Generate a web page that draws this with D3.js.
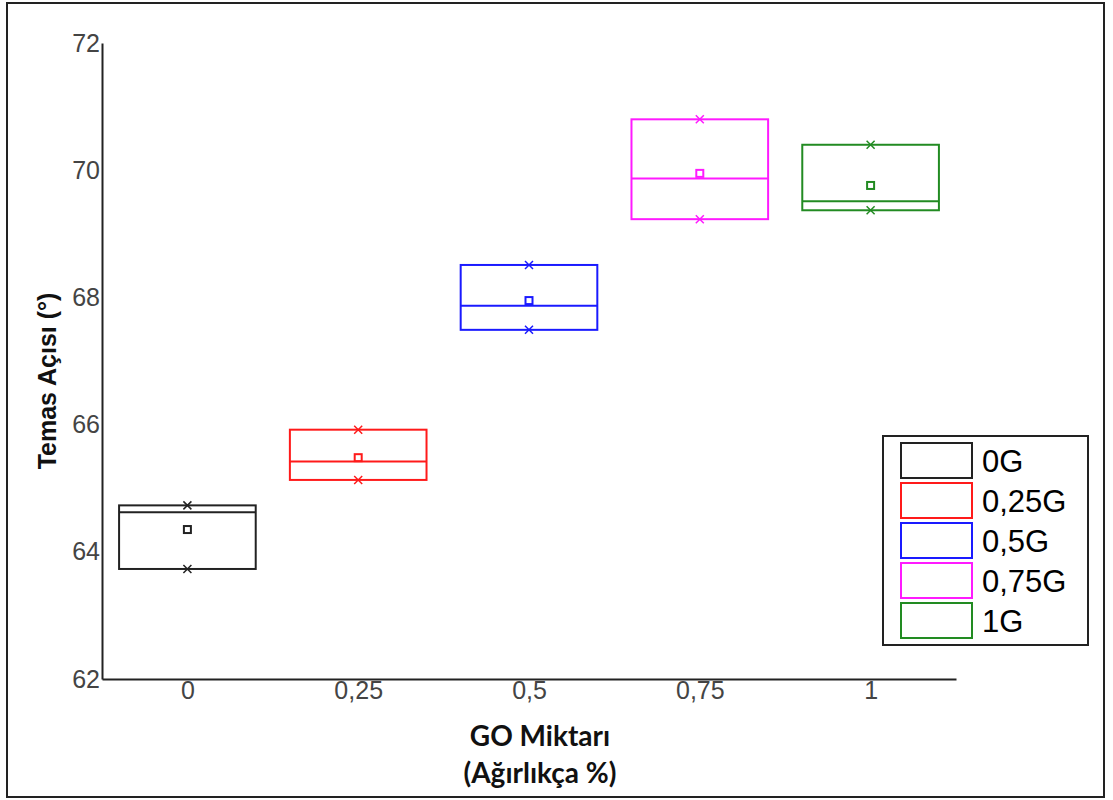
<!DOCTYPE html>
<html>
<head>
<meta charset="utf-8">
<script src="https://cdn.jsdelivr.net/npm/d3@7"></script>
<style>
  body { margin: 0; background: #fff; }
  svg { display: block; }
</style>
</head>
<body>
<svg id="chart" width="1113" height="800"></svg>
<script>
// data
var groups = ["0G", "0,25G", "0,5G", "0,75G", "1G"];
var goAmount = [0, 0.25, 0.5, 0.75, 1];
var tickLabels = ["0", "0,25", "0,5", "0,75", "1"];
var colors = ["#222222", "#ff1a1a", "#1a1aff", "#ff1aff", "#228b22"];
var maxVal = [64.73, 65.92, 68.51, 70.80, 70.40];
var medianVal = [64.62, 65.42, 67.87, 69.87, 69.51];
var meanVal = [64.35, 65.48, 67.95, 69.95, 69.76];
var minVal = [63.73, 65.13, 67.49, 69.23, 69.37];
var yTicks = [62, 64, 66, 68, 70, 72];

var svg = d3.select("#chart");

// outer frame
svg.append("rect")
	.attr("x", 7).attr("y", 3)
	.attr("width", 1097).attr("height", 794)
	.attr("fill", "white")
	.attr("stroke", "#222")
	.attr("stroke-width", 2);

var x = d3.scaleLinear().domain([-0.125, 1.125]).range([102, 956]);
var y = d3.scaleLinear().domain([62, 72]).range([679, 43]);
var boxW = (x(0.25) - x(0)) * 0.8;

//Axes
var yAxis = svg.append("g")
	.attr("transform", "translate(" + x(-0.125) + ",0)")
	.call(d3.axisLeft(y).tickValues(yTicks).tickSize(0).tickSizeOuter(0).tickPadding(2));
var xAxis = svg.append("g")
	.attr("transform", "translate(0," + y(62) + ")")
	.call(d3.axisBottom(x).tickValues(goAmount).tickFormat((d, i) => tickLabels[i])
		.tickSize(0).tickSizeOuter(0).tickPadding(2));
[xAxis, yAxis].forEach(function(a) {
	a.select(".domain").attr("stroke", "#222").attr("stroke-width", 2);
	a.selectAll("text")
		.attr("font-family", "Liberation Sans, Arial, sans-serif")
		.attr("font-size", 25)
		.attr("fill", "#444");
});

//Boxes
var box = svg.append("g").selectAll("g").data(groups).enter().append("g")
	.attr("stroke", (d, i) => colors[i])
	.attr("fill", "none")
	.attr("stroke-width", 2);

box.append("rect")
	.attr("x", (d, i) => x(goAmount[i]) - boxW / 2)
	.attr("y", (d, i) => y(maxVal[i]))
	.attr("width", boxW)
	.attr("height", (d, i) => y(minVal[i]) - y(maxVal[i]));

box.append("line")
	.attr("x1", (d, i) => x(goAmount[i]) - boxW / 2)
	.attr("x2", (d, i) => x(goAmount[i]) + boxW / 2)
	.attr("y1", (d, i) => y(medianVal[i]))
	.attr("y2", (d, i) => y(medianVal[i]));

box.append("rect")
	.attr("x", (d, i) => x(goAmount[i]) - 3.5)
	.attr("y", (d, i) => y(meanVal[i]) - 3.5)
	.attr("width", 7)
	.attr("height", 7);

function cross(g, vals) {
	g.append("path")
		.attr("stroke-width", 1.5)
		.attr("d", function(d, i) {
			var cx = x(goAmount[i]), cy = y(vals[i]);
			return "M" + (cx - 4) + "," + (cy - 4) + "L" + (cx + 4) + "," + (cy + 4) +
				"M" + (cx - 4) + "," + (cy + 4) + "L" + (cx + 4) + "," + (cy - 4);
		});
}
cross(box, maxVal);
cross(box, minVal);

//Legend
var legend = svg.append("g");
legend.append("rect")
	.attr("x", 883).attr("y", 436)
	.attr("width", 205).attr("height", 209)
	.attr("fill", "white")
	.attr("stroke", "#222")
	.attr("stroke-width", 2);
var item = legend.selectAll(".item").data(groups).enter().append("g")
	.attr("class", "item")
	.attr("transform", (d, i) => "translate(0," + (443 + i * 40) + ")");
item.append("rect")
	.attr("x", 901).attr("y", 0)
	.attr("width", 71).attr("height", 35)
	.attr("fill", "none")
	.attr("stroke", (d, i) => colors[i])
	.attr("stroke-width", 2);
item.append("text")
	.attr("x", 982).attr("y", 29)
	.attr("font-family", "Liberation Sans, Arial, sans-serif")
	.attr("font-size", 31)
	.attr("fill", "#000")
	.text(d => d);

//Axis titles
svg.append("text")
	.attr("transform", "translate(56,381) rotate(-90)")
	.attr("text-anchor", "middle")
	.attr("font-family", "Liberation Sans, Arial, sans-serif")
	.attr("font-weight", "bold")
	.attr("font-size", 25)
	.attr("fill", "#111")
	.text("Temas Açısı (°)");
svg.append("text")
	.attr("x", 540).attr("y", 746)
	.attr("text-anchor", "middle")
	.attr("font-family", "Lato, 'Open Sans', sans-serif")
	.attr("font-weight", "bold")
	.attr("font-size", 28)
	.attr("fill", "#111")
	.text("GO Miktarı");
svg.append("text")
	.attr("x", 540).attr("y", 783)
	.attr("text-anchor", "middle")
	.attr("font-family", "Lato, 'Open Sans', sans-serif")
	.attr("font-weight", "bold")
	.attr("font-size", 28)
	.attr("fill", "#111")
	.text("(Ağırlıkça %)");
</script>
</body>
</html>
